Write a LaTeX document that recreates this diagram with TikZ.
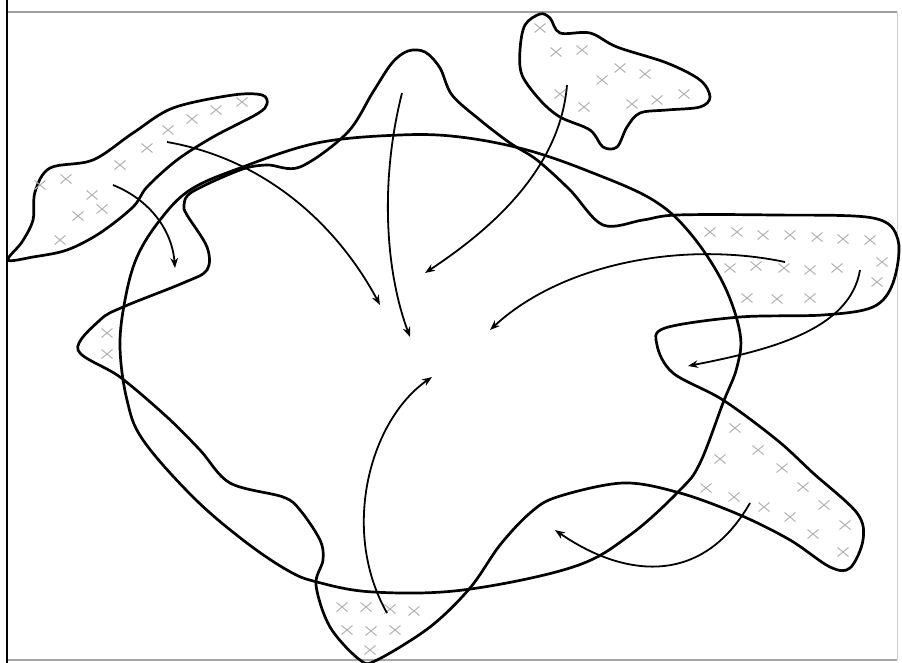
\documentclass[tikz,border=0pt]{standalone}
\usetikzlibrary{arrows.meta}
\begin{document}
\begin{tikzpicture}[x=1pt,y=-1pt,>={Stealth[length=10pt,width=7.5pt]},
  rim/.style={line width=2.7pt,line join=round},
  flow/.style={line width=1.8pt,->},
  xmark/.style={gray!60,line width=1pt}]
  \useasboundingbox (0,0) rectangle (902,663);
  % frame of the scan
  \draw[gray!75,line width=1.4pt] (7,12) -- (897,12);
  \draw[gray!40,line width=1pt] (897,12) -- (897,660);
  \draw[gray!70,line width=1.2pt] (7,660) -- (897,660);
  \draw[line width=2.2pt] (7,0) -- (7,663);
  % the oval
  \draw[rim] plot[smooth cycle,tension=0.6] coordinates {
    (400,135) (460,137) (527,150) (593,173) (653,200) (690,233) (723,283)
    (740,333) (737,367) (723,403) (700,463) (680,490) (630,535) (573,567)
    (463,590) (373,592) (317,582) (287,570) (243,540) (193,497) (143,440)
    (127,400) (120,347) (125,300) (137,257) (160,220) (190,190) (240,168)
    (317,143)};
  % the spreading outline
  \draw[rim] plot[smooth cycle,tension=0.55] coordinates {
    (470,588) (500,545) (530,513) (557,497) (623,483) (680,493) (740,515)
    (790,540) (830,567) (850,568) (863,540) (857,513) (813,473) (777,440)
    (723,400) (673,373) (657,345) (665,328) (740,317) (823,315) (873,307)
    (893,283) (898,240) (873,218) (773,215) (677,215) (643,220) (603,225)
    (570,190) (537,160) (510,143) (480,120) (452,95) (440,68) (425,52)
    (408,51) (392,63) (373,92) (347,133) (300,167) (267,165) (240,170)
    (192,192) (184,205) (187,215) (207,247) (207,270) (183,283) (123,307)
    (100,320) (78,350) (120,377) (167,417) (200,450) (230,483) (283,497)
    (300,510) (320,540) (323,560) (316,585) (330,627) (360,660) (377,660)
    (430,627)};
  % islands
  \draw[rim] plot[smooth cycle,tension=0.55] coordinates {
    (8,260) (22,242) (33,220) (35,192) (50,168) (93,160) (133,133) (173,108)
    (233,95) (262,95) (267,104) (257,114) (213,137) (177,160) (147,187)
    (133,207) (100,233) (67,250) (33,257)};
  \draw[rim] plot[smooth cycle,tension=0.55] coordinates {
    (540,14) (525,25) (520,50) (522,75) (540,100) (560,117) (590,130)
    (603,147) (617,147) (627,127) (640,113) (667,110) (700,107) (710,97)
    (700,80) (667,63) (617,47) (590,33) (560,33) (550,18)};
  % crosses
  \foreach \x/\y in {40/185,66/179,92/195,78/216,102/209,60/240,120/165,
      147/148,168/130,192/119,216/110,242/102,
      540/28,556/52,582/50,602/80,620/68,645/74,560/94,584/107,632/104,
      657/100,684/94,
      710/232,737/232,763/235,790/235,817/237,843/239,870/240,
      730/268,756/266,784/268,810/270,837/268,882/262,877/282,
      747/298,777/299,810/298,
      735/428,758/450,720/459,782/468,706/488,734/497,764/507,803/487,
      824/505,790/517,845/525,813/534,843/552,
      342/607,366/607,390/609,414/611,347/630,371/631,395/630,370/650,
      107/333,107/354}
    \draw[xmark] (\x,\y) +(-5.5,-4.5) -- +(5.5,4.5) +(-5.5,4.5) -- +(5.5,-4.5);
  % arrow ends
  \coordinate (a1) at (113,185); \coordinate (b1) at (175,268);
  \coordinate (a2) at (167,142); \coordinate (b2) at (380,305);
  \coordinate (a3) at (402,93);  \coordinate (b3) at (410,337);
  \coordinate (a4) at (567,85);  \coordinate (b4) at (425,273);
  \coordinate (a5) at (785,262); \coordinate (b5) at (490,330);
  \coordinate (a6) at (860,270); \coordinate (b6) at (688,366);
  \coordinate (a7) at (750,503); \coordinate (b7) at (555,530);
  \coordinate (a8) at (387,613); \coordinate (b8) at (432,377);
  \draw[flow] (a1) .. controls (150,200) and (172,230) .. (b1);
  \draw[flow] (a2) .. controls (270,160) and (340,230) .. (b2);
  \draw[flow] (a3) .. controls (380,180) and (385,270) .. (b3);
  \draw[flow] (a4) .. controls (560,170) and (490,230) .. (b4);
  \draw[flow] (a5) .. controls (680,240) and (560,265) .. (b5);
  \draw[flow] (a6) .. controls (850,330) and (770,350) .. (b6);
  \draw[flow] (a7) .. controls (700,590) and (620,575) .. (b7);
  \draw[flow] (a8) .. controls (340,530) and (370,420) .. (b8);
\end{tikzpicture}
\end{document}
